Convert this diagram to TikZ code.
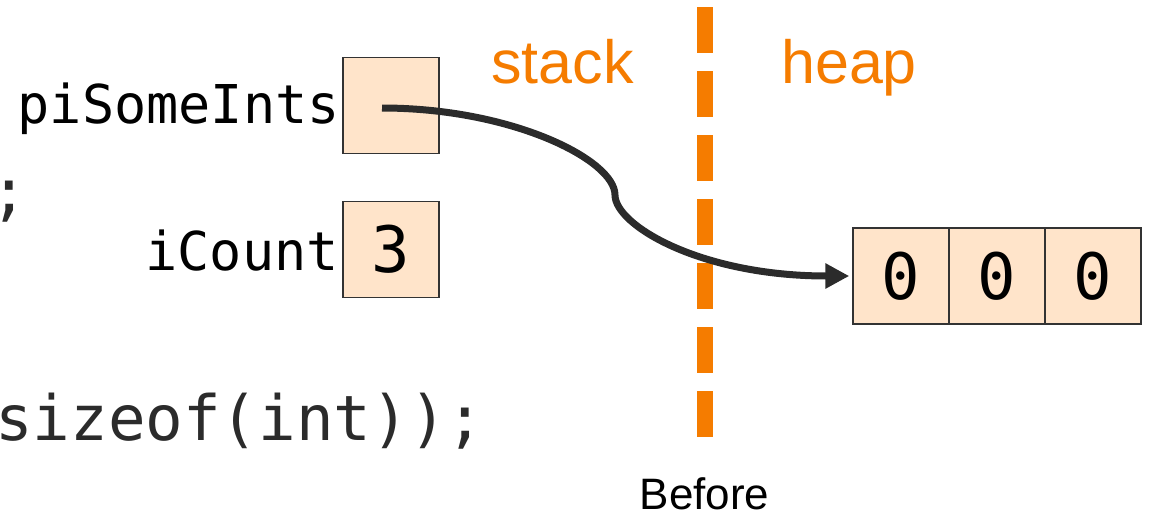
\documentclass[tikz,border=0pt]{standalone}
\usepackage{fontspec}
\setmainfont{Liberation Sans}
\setmonofont{DejaVu Sans Mono}
\usetikzlibrary{arrows.meta}
\definecolor{peach}{HTML}{FFE4CA}
\definecolor{edge}{HTML}{333333}
\definecolor{ink}{HTML}{2B2B2B}
\definecolor{orng}{HTML}{F57C00}
\begin{document}
\begin{tikzpicture}[x=1pt,y=-1pt,
  cell/.style={draw=edge, line width=1.5pt, fill=peach, minimum width=96pt, minimum height=96pt, inner sep=0pt, font=\fontsize{64}{70}\selectfont\ttfamily},
  lbl/.style={font=\fontsize{53.5}{60}\selectfont\ttfamily, inner sep=0pt, anchor=base east},
  code/.style={font=\fontsize{62.5}{70}\selectfont\ttfamily, text=ink, inner sep=0pt, anchor=base west},
  region/.style={font=\fontsize{61}{70}\selectfont, text=orng, inner sep=0pt, anchor=base west},
  divider/.style={draw=orng, line width=16pt, dash pattern=on 46pt off 18pt},
  ptr/.style={draw=ink, line width=7pt, -{Triangle[length=24pt,width=24pt]}}]
\useasboundingbox (0,0) rectangle (1152,515);
% code fragments
\node[code] (codeA) at (-10,213) {;};
\node[code] (codeB) at (-5,440) {sizeof(int));};
% stack variables
\node[cell] (ps) at (391,105.5) {};
\node[cell] (ic) at (391,249.5) {3};
\node[lbl] (psl) at (340,123) {piSomeInts};
\node[lbl] (icl) at (339,270) {iCount};
% divider
\coordinate (divtop) at (705,7);
\coordinate (divbot) at (705,437);
\draw[divider] (divtop) -- (divbot);
\node[region] (stk) at (491,83) {stack};
\node[region] (hp) at (781,83) {heap};
% heap array
\node[cell] (a1) at (901,276) {0};
\node[cell] (a2) at (997,276) {0};
\node[cell] (a3) at (1093,276) {0};
% pointer
\coordinate (pstart) at (382,108);
\draw[ptr] (pstart) .. controls (512,108) and (615,160) .. (615,195)
  .. controls (615,225) and (700,276) .. ([xshift=-3pt]a1.west);
% caption
\node[font=\fontsize{44}{50}\selectfont, inner sep=0pt, anchor=base west] (cap) at (639.5,509) {Before};
\end{tikzpicture}
\end{document}
